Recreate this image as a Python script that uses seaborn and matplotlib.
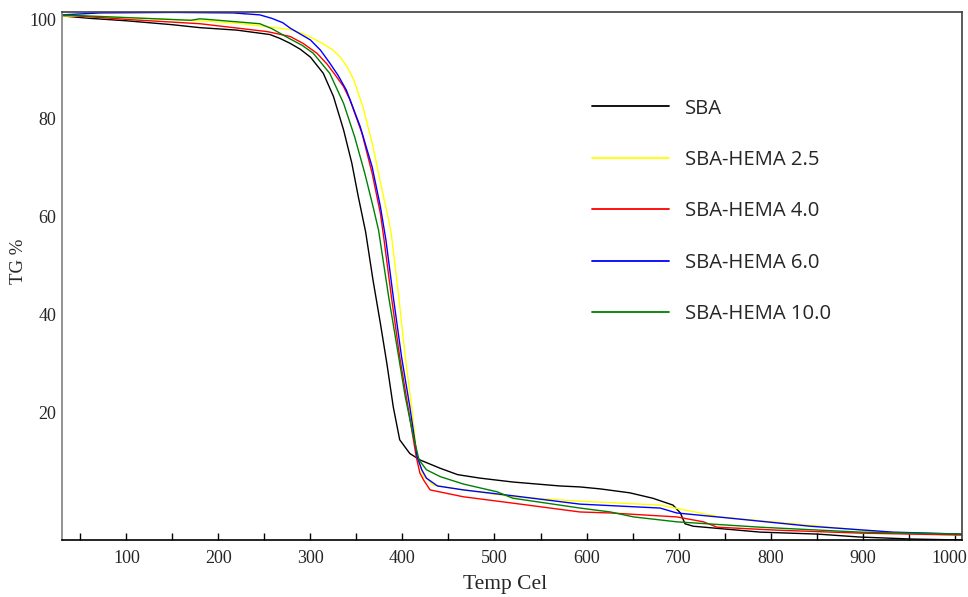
import numpy as np
import pandas as pd
import matplotlib
matplotlib.use("Agg")
import matplotlib.pyplot as plt
import matplotlib.transforms as mtransforms
from matplotlib.ticker import MultipleLocator
import seaborn as sns

# Thermogravimetric curves (temperature in °C, residual mass in %)
sba_temp = [30, 60, 100, 150, 180, 220, 256, 267, 278, 289, 300, 314, 325, 336, 345,
            352, 360, 368, 376, 383, 390, 397, 408, 419, 441, 460, 484, 520, 571,
            593, 615, 647, 672, 694, 702, 707, 716, 789, 851, 897, 952, 1008]
sba_tg = [100.8, 100.3, 99.8, 99.0, 98.4, 97.9, 97.0, 96.2, 95.2, 94.0, 92.4, 89.1,
          84.4, 77.6, 70.8, 64.0, 56.8, 47.0, 38.2, 30.1, 21.2, 14.5, 11.7, 10.4,
          8.7, 7.4, 6.7, 5.9, 5.1, 4.9, 4.5, 3.7, 2.6, 1.2, -0.4, -2.6, -3.1, -4.3,
          -4.7, -5.3, -5.7, -5.9]

h25_temp = [30, 71, 120, 180, 220, 253, 278, 290, 303, 314, 324, 332, 340, 347, 357,
            368, 377, 385, 388, 396, 403, 410, 416, 423, 428, 433, 466, 520, 593,
            680, 745, 843, 933, 1008]
h25_tg = [100.8, 100.6, 100.3, 99.8, 99.3, 98.6, 98.0, 97.3, 96.2, 95.1, 93.9, 92.5,
          90.4, 87.8, 82.3, 74.2, 66.0, 59.3, 56.2, 43.6, 31.4, 21.2, 11.0, 7.0,
          6.3, 5.3, 4.3, 2.9, 2.0, 1.2, -1.2, -2.9, -4.5, -4.9]

h40_temp = [30, 107, 180, 253, 278, 292, 307, 318, 328, 336, 343, 356, 367, 376, 380,
            388, 397, 406, 415, 419, 423, 430, 466, 520, 593, 626, 698, 727, 742,
            807, 897, 1008]
h40_tg = [101.0, 100.0, 99.2, 97.6, 96.6, 95.2, 93.2, 91.0, 88.5, 86.4, 83.7, 76.9,
          68.8, 60.6, 55.2, 43.6, 31.4, 21.2, 11.0, 7.7, 6.3, 4.3, 2.9, 1.6, -0.2,
          -0.4, -1.2, -2.2, -3.3, -3.9, -4.5, -4.9]

h60_temp = [30, 71, 150, 216, 245, 258, 270, 278, 300, 311, 321, 330, 339, 354, 367,
            376, 382, 390, 399, 408, 416, 421, 426, 438, 466, 520, 593, 680, 698,
            753, 843, 933, 1008]
h60_tg = [101.0, 101.4, 101.5, 101.4, 101.0, 100.3, 99.4, 98.3, 95.9, 93.8, 91.2,
          88.7, 85.7, 78.3, 70.1, 62.0, 55.2, 43.6, 31.4, 21.2, 11.0, 8.4, 6.7, 5.1,
          4.3, 3.1, 1.4, 0.6, -0.4, -1.4, -3.1, -4.3, -4.7]

h100_temp = [30, 107, 170, 180, 200, 245, 258, 278, 291, 303, 321, 336, 348, 359, 368,
             374, 385, 394, 403, 412, 418, 426, 441, 466, 503, 520, 593, 626, 651,
             698, 789, 897, 1008]
h100_tg = [101.0, 100.4, 99.9, 100.2, 99.9, 99.2, 98.2, 96.1, 94.8, 93.2, 89.1, 83.0,
           76.2, 68.8, 62.0, 57.2, 43.6, 33.5, 23.3, 15.1, 10.4, 8.4, 7.0, 5.5, 3.9,
           2.6, 0.6, -0.2, -1.2, -2.2, -3.3, -4.3, -4.7]

labels = ["SBA", "SBA-HEMA 2.5", "SBA-HEMA 4.0", "SBA-HEMA 6.0", "SBA-HEMA 10.0"]
colors = ["#000000", "#ffff00", "#ff0000", "#0000ff", "#008000"]

series = [(sba_temp, sba_tg), (h25_temp, h25_tg), (h40_temp, h40_tg),
          (h60_temp, h60_tg), (h100_temp, h100_tg)]
frames = [pd.DataFrame({"Temp": t, "TG": g, "Sample": lab})
          for (t, g), lab in zip(series, labels)]
df = pd.concat(frames, ignore_index=True)

sns.set_theme(style="white")
plt.rcParams["font.family"] = ["Liberation Serif", "DejaVu Serif"]

fig = plt.figure(figsize=(9.68, 5.97), dpi=100)
ax = fig.add_axes([0.064, 0.0955, 0.9298, 0.8845])

sns.lineplot(data=df, x="Temp", y="TG", hue="Sample", hue_order=labels,
             palette=dict(zip(labels, colors)), estimator=None, sort=False,
             linewidth=1.0, ax=ax)

ax.set_xlim(30, 1008)
ax.set_ylim(-5.9, 101.6)
ax.set_yticks([20, 40, 60, 80, 100])
ax.xaxis.set_minor_locator(MultipleLocator(50))
ax.set_xticks([100, 200, 300, 400, 500, 600, 700, 800, 900, 1000])

ax.tick_params(axis="x", which="both", direction="in", length=5, width=1,
               color="black", bottom=True, top=False, labelsize=13, pad=7)
ax.tick_params(axis="y", which="both", length=0, labelsize=13, pad=4)

# keep the last x tick label inside the canvas
last = ax.get_xticklabels()[-1]
last.set_transform(last.get_transform() +
                   mtransforms.ScaledTranslation(-5 / 100, 0, fig.dpi_scale_trans))

for sp in ax.spines.values():
    sp.set_linewidth(1.2)
ax.spines["left"].set_color("#808080")
ax.spines["bottom"].set_color("#000000")
ax.spines["top"].set_color("#404040")
ax.spines["right"].set_color("#404040")

ax.set_xlabel("Temp Cel", fontsize=15.5)
ax.xaxis.set_label_coords(0.492, -0.085)
ax.xaxis.label.set_va("center")
ax.set_ylabel("TG %", fontsize=13.5)
ax.yaxis.set_label_coords(-0.048, 0.527)
ax.yaxis.label.set_va("center")

leg = ax.legend(loc="upper left", bbox_to_anchor=(0.589, 0.836), frameon=False,
                prop={"family": "Open Sans", "size": 14.6},
                handlelength=3.8, handletextpad=0.8, labelspacing=1.55,
                borderpad=0, borderaxespad=0)
for line in leg.get_lines():
    line.set_linewidth(1.3)

fig.savefig("out.png", dpi=100)
